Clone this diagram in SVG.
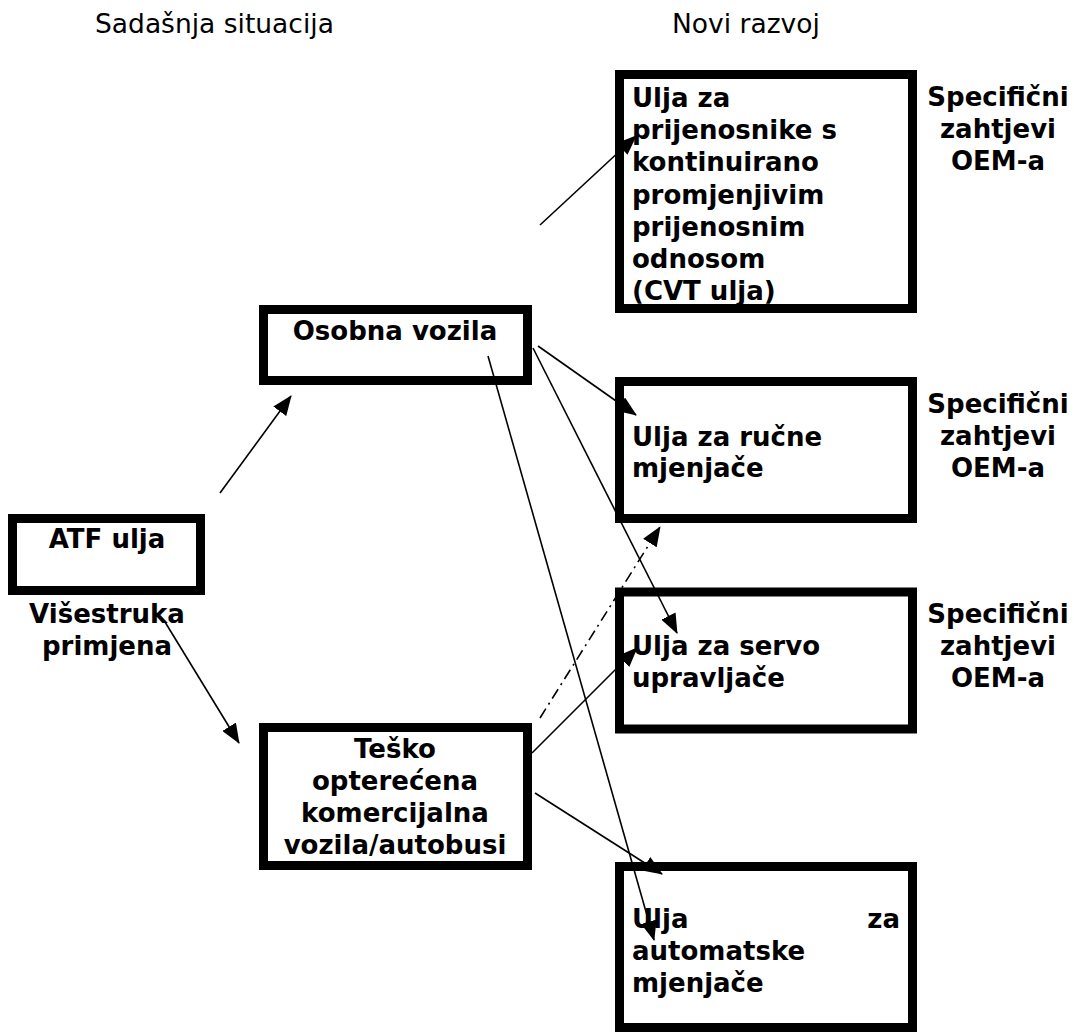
<svg xmlns="http://www.w3.org/2000/svg" width="1074" height="1035" viewBox="0 0 1074 1035">
<style>
.box{fill:#fff;stroke:#000;stroke-width:9}
.t{font-family:"DejaVu Sans","Liberation Sans",sans-serif;font-weight:bold;font-size:26px;fill:#000}
.h{font-family:"DejaVu Sans","Liberation Sans",sans-serif;font-size:26.5px;fill:#000}
.c{text-anchor:middle}
.e{text-anchor:end}
.ln{stroke:#000;stroke-width:1.6;fill:none;marker-end:url(#ah)}
.dd{stroke-dasharray:11,5,2,5}
</style>
<defs>
<marker id="ah" viewBox="0 0 20 16" refX="19" refY="8" markerWidth="20" markerHeight="16" markerUnits="userSpaceOnUse" orient="auto">
<path d="M0,0 L20,8 L0,16 z" fill="#000"/>
</marker>
</defs>
<g id="headers">
<text class="h" x="95" y="33">Sadašnja situacija</text>
<text class="h" x="672" y="33">Novi razvoj</text>
</g>
<g id="atf">
<rect class="box" x="12.5" y="518.5" width="188" height="72"/>
<text class="t c" x="107" y="548">ATF ulja</text>
<text class="t c" x="107" y="623">Višestruka</text>
<text class="t c" x="107" y="655">primjena</text>
</g>
<g id="osobna">
<rect class="box" x="263.5" y="309.5" width="264" height="71"/>
<text class="t c" x="395" y="340">Osobna vozila</text>
</g>
<g id="tesko">
<rect class="box" x="263.5" y="727.5" width="264" height="138"/>
<text class="t c" x="395" y="758">Teško</text>
<text class="t c" x="395" y="790">opterećena</text>
<text class="t c" x="395" y="822">komercijalna</text>
<text class="t c" x="395" y="854">vozila/autobusi</text>
</g>
<g id="cvt">
<rect class="box" x="619.5" y="74.5" width="293" height="234"/>
<text class="t" x="632" y="107">Ulja za</text>
<text class="t" x="632" y="139">prijenosnike s</text>
<text class="t" x="632" y="171">kontinuirano</text>
<text class="t" x="632" y="204">promjenjivim</text>
<text class="t" x="632" y="236">prijenosnim</text>
<text class="t" x="632" y="268">odnosom</text>
<text class="t" x="632" y="300">(CVT ulja)</text>
</g>
<g id="cvt-oem">
<text class="t c" x="998" y="106">Specifični</text>
<text class="t c" x="998" y="138">zahtjevi</text>
<text class="t c" x="998" y="170">OEM-a</text>
</g>
<g id="rucne">
<rect class="box" x="619.5" y="381.5" width="293" height="137"/>
<text class="t" x="632" y="446">Ulja za ručne</text>
<text class="t" x="632" y="477">mjenjače</text>
</g>
<g id="rucne-oem">
<text class="t c" x="998" y="413">Specifični</text>
<text class="t c" x="998" y="445">zahtjevi</text>
<text class="t c" x="998" y="477">OEM-a</text>
</g>
<g id="servo">
<rect class="box" x="619.5" y="592" width="293" height="137"/>
<text class="t" x="632" y="655">Ulja za servo</text>
<text class="t" x="632" y="687">upravljače</text>
</g>
<g id="servo-oem">
<text class="t c" x="998" y="623">Specifični</text>
<text class="t c" x="998" y="655">zahtjevi</text>
<text class="t c" x="998" y="687">OEM-a</text>
</g>
<g id="automatske">
<rect class="box" x="619.5" y="866.5" width="293" height="161"/>
<text class="t" x="632" y="928">Ulja</text>
<text class="t e" x="900" y="928">za</text>
<text class="t" x="632" y="960">automatske</text>
<text class="t" x="632" y="992">mjenjače</text>
</g>
<g id="connectors">
<line class="ln" x1="220" y1="493" x2="291" y2="396"/>
<line class="ln" x1="165" y1="622" x2="239" y2="743"/>
<line class="ln" x1="540" y1="225" x2="636" y2="136"/>
<line class="ln" x1="538" y1="346" x2="636" y2="415"/>
<line class="ln" x1="533" y1="348" x2="677" y2="633"/>
<line class="ln" x1="488" y1="356" x2="654" y2="940"/>
<line class="ln" x1="532" y1="753" x2="637" y2="648"/>
<line class="ln" x1="535" y1="793" x2="662" y2="874"/>
<line class="ln dd" x1="540" y1="718" x2="660" y2="527"/>
</g>
</svg>
